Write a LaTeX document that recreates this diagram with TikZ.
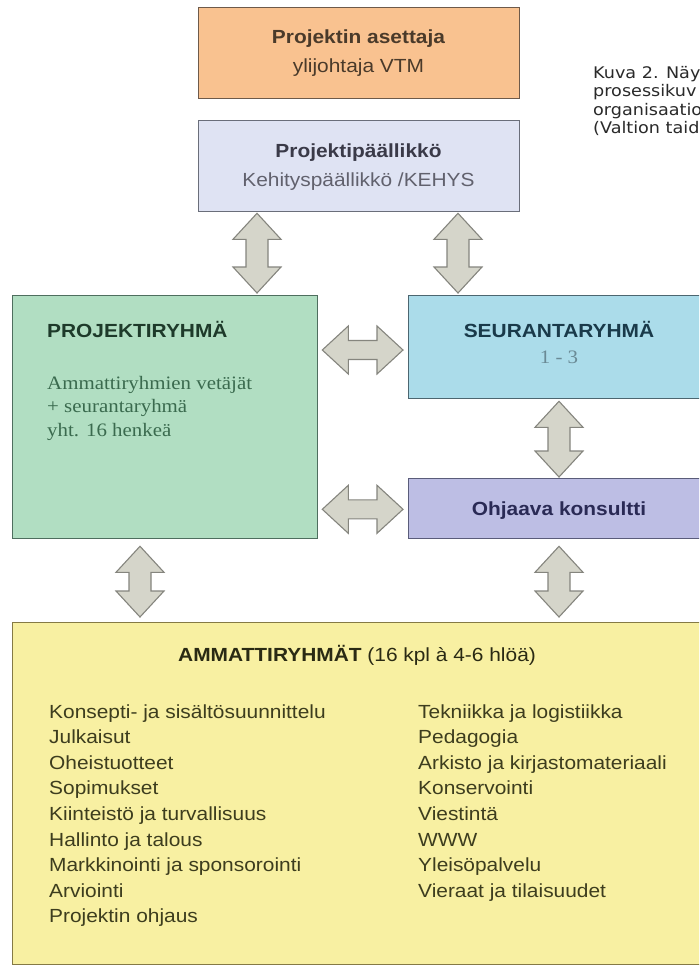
\documentclass[tikz,border=0pt]{standalone}
\usepackage{fontspec}
\usepackage{graphicx}
\setmainfont{Liberation Sans}
\newfontfamily\serifft{Liberation Serif}
\newfontfamily\capft{DejaVu Sans}
\usetikzlibrary{calc}
\definecolor{fOr}{HTML}{F9C290}\definecolor{dOr}{HTML}{6E5A4A}
\definecolor{fBl}{HTML}{DFE3F3}\definecolor{dBl}{HTML}{6A6E7A}
\definecolor{fGr}{HTML}{B1DEC2}\definecolor{dGr}{HTML}{4E6E5E}
\definecolor{fSe}{HTML}{ABDCEA}\definecolor{dSe}{HTML}{4C6670}
\definecolor{fOh}{HTML}{BDBEE4}\definecolor{dOh}{HTML}{5A5C7A}
\definecolor{fYe}{HTML}{F8F0A2}\definecolor{dYe}{HTML}{857A45}
\definecolor{arF}{HTML}{D5D5CA}\definecolor{arD}{HTML}{85857E}
\definecolor{tTop}{HTML}{4A3A2A}\definecolor{tBl}{HTML}{3A3A48}
\definecolor{tGr}{HTML}{1E3A2A}\definecolor{tGs}{HTML}{3A6A4E}
\definecolor{tSe}{HTML}{1A3A4A}\definecolor{tSg}{HTML}{6A8A95}
\definecolor{tOh}{HTML}{2A2A55}\definecolor{tYe}{HTML}{2A2A14}
\definecolor{tLi}{HTML}{3D3D1E}\definecolor{tCap}{HTML}{2A2A2A}
\newcommand\sx[1]{\scalebox{1.1}[1]{#1}}
\newcommand\cx[1]{\scalebox{1.1}[1]{#1}}
\newcommand\blockarr[3]{%
  \draw[arrowst] (#1) -- ($(#1)!26pt!(#2)!24pt!90:(#2)$) -- ($(#1)!26pt!(#2)!#3!90:(#2)$)
    -- ($(#2)!26pt!(#1)!#3!-90:(#1)$) -- ($(#2)!26pt!(#1)!24pt!-90:(#1)$) -- (#2)
    -- ($(#2)!26pt!(#1)!24pt!90:(#1)$) -- ($(#2)!26pt!(#1)!#3!90:(#1)$)
    -- ($(#1)!26pt!(#2)!#3!-90:(#2)$) -- ($(#1)!26pt!(#2)!24pt!-90:(#2)$) -- cycle;}
\begin{document}
\begin{tikzpicture}[x=1pt,y=-1pt,
  box/.style={draw, line width=1.3pt, inner sep=0pt, anchor=north west},
  arrowst/.style={fill=arF, draw=arD, line width=1.1pt, line join=miter},
  txt/.style={inner sep=0pt, font=\fontsize{19pt}{23pt}\selectfont},
  sertxt/.style={txt, font=\serifft\fontsize{19pt}{23pt}\selectfont},
  captxt/.style={inner sep=0pt, anchor=base west, text=tCap, font=\capft\fontsize{16pt}{19pt}\selectfont}]
\useasboundingbox (0,0) rectangle (699,966);
\fill[white] (0,0) rectangle (699,966);
\clip (0,0) rectangle (699,966);
% boxes
\node[box, fill=fOr, draw=dOr, minimum width=321pt, minimum height=91pt] (ase) at (198,7) {};
\node[box, fill=fBl, draw=dBl, minimum width=321pt, minimum height=91pt] (pp) at (198,120) {};
\node[box, fill=fGr, draw=dGr, minimum width=305pt, minimum height=243pt] (pr) at (12,295) {};
\node[box, fill=fSe, draw=dSe, minimum width=302pt, minimum height=103pt] (se) at (408,295) {};
\node[box, fill=fOh, draw=dOh, minimum width=302pt, minimum height=60pt] (oh) at (408,478) {};
\node[box, fill=fYe, draw=dYe, minimum width=698pt, minimum height=342pt] (am) at (12,622) {};
% texts
\node[txt, anchor=base, text=tTop] (t1) at (358.5,44) {\sx{\bfseries Projektin asettaja}};
\node[txt, anchor=base, text=tTop] (t2) at (358.5,72) {\sx{ylijohtaja VTM}};
\node[txt, anchor=base, text=tBl] (t3) at (358.5,157.5) {\sx{\bfseries Projektipäällikkö}};
\node[txt, anchor=base, text=tBl!80] (t4) at (358.5,186) {\sx{Kehityspäällikkö /KEHYS}};
\node[txt, anchor=base west, text=tGr] (t5) at (47,337) {\sx{\bfseries PROJEKTIRYHMÄ}};
\node[sertxt, anchor=base west, text=tGs] (t6) at (47,389) {\sx{Ammattiryhmien vetäjät}};
\node[sertxt, anchor=base west, text=tGs] (t7) at (47,412.5) {\sx{+ seurantaryhmä}};
\node[sertxt, anchor=base west, text=tGs] (t8) at (47,436) {\sx{yht. 16 henkeä}};
\node[txt, anchor=base, text=tSe] (t9) at (559,337) {\sx{\bfseries SEURANTARYHMÄ}};
\node[sertxt, anchor=base, text=tSg] (t10) at (559,363) {\sx{1 - 3}};
\node[txt, anchor=base, text=tOh] (t11) at (559,515) {\sx{\bfseries Ohjaava konsultti}};
\node[txt, anchor=base west, text=tYe] (t12) at (178,661) {\sx{\textbf{AMMATTIRYHMÄT} (16 kpl à 4-6 hlöä)}};
\foreach \t [count=\i] in {Konsepti- ja sisältösuunnittelu, Julkaisut, Oheistuotteet, Sopimukset,
  Kiinteistö ja turvallisuus, Hallinto ja talous, Markkinointi ja sponsorointi, Arviointi, Projektin ohjaus}
  \node[txt, anchor=base west, text=tLi] (L\i) at (49,{718+25.6*(\i-1)}) {\sx{\t}};
\foreach \t [count=\i] in {Tekniikka ja logistiikka, Pedagogia, Arkisto ja kirjastomateriaali, Konservointi,
  Viestintä, WWW, Yleisöpalvelu, Vieraat ja tilaisuudet}
  \node[txt, anchor=base west, text=tLi] (R\i) at (418,{718+25.6*(\i-1)}) {\sx{\t}};
% caption
\node[captxt] (c1) at (593,78) {\cx{Kuva 2. Näy}};
\node[captxt] (c2) at (593,96.5) {\cx{prosessikuv}};
\node[captxt] (c3) at (593,115) {\cx{organisaatio}};
\node[captxt] (c4) at (593,133.5) {\cx{(Valtion taid}};
% arrow end points
\coordinate (a1s) at ($(pp.south west)+(59,1)$);
\coordinate (a1t) at ($(pr.north west)+(245,-2)$);
\coordinate (a2s) at ($(pp.south west)+(260,1)$);
\coordinate (a2t) at ($(se.north west)+(50,-2)$);
\coordinate (a3s) at ($(pr.north east)+(4,55)$);
\coordinate (a3t) at ($(se.north west)+(-5,55)$);
\coordinate (a4s) at ($(se.south west)+(151,2)$);
\coordinate (a4t) at ($(oh.north west)+(151,-1)$);
\coordinate (a5s) at ($(pr.south east)+(4,-30)$);
\coordinate (a5t) at ($(oh.south west)+(-5,-30)$);
\coordinate (a6s) at ($(pr.south west)+(128,7)$);
\coordinate (a6t) at ($(am.north west)+(128,-5)$);
\coordinate (a7s) at ($(oh.south west)+(151,7)$);
\coordinate (a7t) at ($(am.north west)+(547,-5)$);
\blockarr{a1s}{a1t}{11pt}
\blockarr{a2s}{a2t}{11pt}
\blockarr{a3s}{a3t}{9.5pt}
\blockarr{a4s}{a4t}{11pt}
\blockarr{a5s}{a5t}{9.5pt}
\blockarr{a6s}{a6t}{11pt}
\blockarr{a7s}{a7t}{11pt}
\end{tikzpicture}
\end{document}
